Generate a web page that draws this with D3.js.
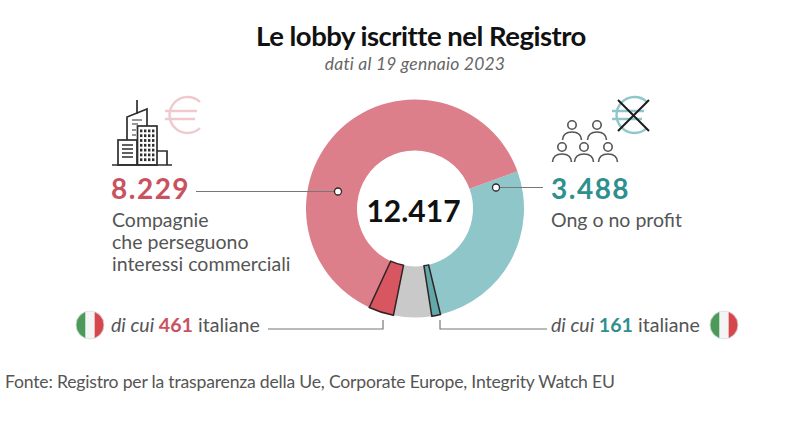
<!DOCTYPE html>
<html>
<head>
<meta charset="utf-8">
<script src="https://cdn.jsdelivr.net/npm/d3@7"></script>
<style>
  html, body { margin: 0; padding: 0; background: #fff; }
  svg { display: block; font-family: Lato, sans-serif; }
</style>
</head>
<body>
<svg id="chart" width="800" height="428"></svg>
<script>
// Chart data
const segmentNames = ["ong", "ongItaliane", "altre", "compagnieItaliane", "compagnie"];
const segmentValues = [3327, 161, 700, 461, 7768];
const segmentColors = ["#8fc6c9", "#62a8a8", "#c9c9c9", "#d8565f", "#dc7f8b"];
const outlinedSegments = ["ongItaliane", "compagnieItaliane"];
const totalLabel = "12.417";
const companyLabel = "8.229";
const ngoLabel = "3.488";
const companyLines = ["Compagnie", "che perseguono", "interessi commerciali"];
const ngoLines = ["Ong o no profit"];

const RED = "#c9525f";
const TEAL = "#2f8f8f";
const TEXT = "#555";
const LINE = "#777";
const DARK = "#2e2e2e";

const svg = d3.select("#chart");

// Title
svg.append("text").attr("x", 421).attr("y", 46).attr("text-anchor", "middle")
  .attr("font-size", 27.5).attr("font-weight", 700).attr("fill", "#111").attr("letter-spacing", -0.5)
  .text("Le lobby iscritte nel Registro");
svg.append("text").attr("x", 415).attr("y", 70).attr("text-anchor", "middle")
  .attr("font-size", 17.5).attr("font-style", "italic").attr("fill", "#666").attr("letter-spacing", 0.2)
  .text("dati al 19 gennaio 2023");

// Donut
const color = d3.scaleOrdinal().domain(segmentNames).range(segmentColors);
const pie = d3.pie().sort(null)
  .startAngle(70 * Math.PI / 180)
  .endAngle(430 * Math.PI / 180);
const arc = d3.arc().innerRadius(58).outerRadius(109);
const slices = pie(segmentValues).map((d, i) => ({ ...d, name: segmentNames[i] }));

const donut = svg.append("g").attr("transform", "translate(415,208.5)");
donut.selectAll("path.slice")
  .data(slices.filter(d => !outlinedSegments.includes(d.name)))
  .join("path")
  .attr("class", "slice")
  .attr("d", arc)
  .attr("fill", d => color(d.name));
// the two italian slices sit on top with a dark outline
donut.selectAll("path.outlined")
  .data(slices.filter(d => outlinedSegments.includes(d.name)))
  .join("path")
  .attr("class", "outlined")
  .attr("d", arc)
  .attr("fill", d => color(d.name))
  .attr("stroke", "#2f2326")
  .attr("stroke-width", 1.5);

svg.append("text").attr("x", 413.5).attr("y", 222).attr("text-anchor", "middle")
  .attr("font-size", 30).attr("font-weight", 700).attr("fill", "#111").text(totalLabel);

// Leader lines
function leader(points) {
  svg.append("path").attr("d", d3.line()(points))
    .attr("fill", "none").attr("stroke", LINE).attr("stroke-width", 1.2);
}
function dot(x, y) {
  svg.append("circle").attr("cx", x).attr("cy", y).attr("r", 3.5)
    .attr("fill", "#fff").attr("stroke", "#2b2b2b").attr("stroke-width", 1.3);
}
leader([[196, 191.5], [338, 191.5]]);
dot(338, 191.5);
leader([[496, 187.5], [543, 187.5]]);
dot(496, 187.5);
leader([[268, 329], [383, 329], [383, 320]]);
leader([[440, 320], [440, 329], [547, 329]]);

// Big numbers
svg.append("text").attr("x", 111).attr("y", 199)
  .attr("font-size", 28).attr("font-weight", 700).attr("fill", RED).attr("letter-spacing", 1.5).text(companyLabel);
svg.append("text").attr("x", 551).attr("y", 199)
  .attr("font-size", 28).attr("font-weight", 700).attr("fill", TEAL).attr("letter-spacing", 1.5).text(ngoLabel);

// Descriptions
svg.selectAll("text.company").data(companyLines).join("text")
  .attr("class", "company").attr("x", 112).attr("y", (d, i) => 226.5 + i * 22)
  .attr("font-size", 19.5).attr("fill", TEXT).text(d => d);
svg.selectAll("text.ngo").data(ngoLines).join("text")
  .attr("class", "ngo").attr("x", 551).attr("y", 226.5)
  .attr("font-size", 19.5).attr("fill", TEXT).text(d => d);

// "di cui ..." labels
function italianLabel(x, value, fill) {
  const t = svg.append("text").attr("x", x).attr("y", 332).attr("font-size", 19.6).attr("fill", TEXT);
  t.append("tspan").attr("font-style", "italic").text("di cui ");
  t.append("tspan").attr("font-weight", 700).attr("fill", fill).text(value);
  t.append("tspan").text(" italiane");
}
italianLabel(111, "461", RED);
italianLabel(551, "161", TEAL);

// Flags
function flag(cx, cy, id) {
  const r = 14;
  svg.append("clipPath").attr("id", id).append("circle").attr("cx", cx).attr("cy", cy).attr("r", r);
  const g = svg.append("g").attr("clip-path", `url(#${id})`);
  ["#4c9a5a", "#f4f4f4", "#d5474d"].forEach((c, i) => {
    g.append("rect").attr("x", cx - r + i * (2 * r / 3)).attr("y", cy - r)
      .attr("width", 2 * r / 3 + 0.5).attr("height", 2 * r).attr("fill", c);
  });
  svg.append("circle").attr("cx", cx).attr("cy", cy).attr("r", r)
    .attr("fill", "none").attr("stroke", "#ddd").attr("stroke-width", 0.8);
}
flag(90, 325, "flag-left");
flag(724, 325, "flag-right");

// Euro sign, open circle with two bars
function euro(cx, cy, stroke) {
  const g = svg.append("g").attr("fill", "none").attr("stroke", stroke).attr("stroke-width", 2.4);
  g.append("path").attr("d", `M${cx + 16},${cy - 13} A18,18 0 1 0 ${cx + 16},${cy + 13}`);
  g.append("path").attr("d", `M${cx - 19},${cy - 4} H${cx + 13} M${cx - 19},${cy + 4} H${cx + 11}`);
}

// Buildings icon
function buildings() {
  const g = svg.append("g").attr("fill", "none").attr("stroke", DARK).attr("stroke-width", 1.7);
  g.append("path").attr("d", "M112,165 H172");
  g.append("path").attr("d", "M127,140 V117 L147,109 V126");
  g.append("path").attr("d", "M137,100 V114");
  g.append("rect").attr("x", 118).attr("y", 140).attr("width", 19).attr("height", 25);
  g.append("rect").attr("x", 137.5).attr("y", 126).attr("width", 19.5).attr("height", 39);
  g.append("path").attr("d", "M157,151 H167 V165");
  // back tower stripes
  g.append("path").attr("d", "M132,120 H142 M132,124 H138 M132,130 H136 M132,135 H136").attr("stroke-width", 1.2);
  // left block stripes
  g.append("path").attr("d", "M122,145 H133 M122,149 H133 M122,153 H133 M122,157 H133").attr("stroke-width", 1.6);
  // middle tower windows
  const win = svg.append("g").attr("fill", DARK);
  d3.range(7).forEach(row => d3.range(4).forEach(col => {
    win.append("rect").attr("x", 140 + col * 4).attr("y", 129.5 + row * 4.8)
      .attr("width", 2.4).attr("height", 2.8);
  }));
}
euro(184, 115, "#efc9cd");
buildings();

// People icon
function person(cx, cy) {
  const g = svg.append("g").attr("fill", "none").attr("stroke", "#555").attr("stroke-width", 1.6);
  g.append("circle").attr("cx", cx).attr("cy", cy).attr("r", 4.2);
  g.append("path").attr("d", `M${cx - 9.5},${cy + 15} C${cx - 9},${cy + 8} ${cx - 4},${cy + 7} ${cx},${cy + 7} C${cx + 4},${cy + 7} ${cx + 9},${cy + 8} ${cx + 9.5},${cy + 15}`);
}
person(572, 125);
person(597, 125);
person(562, 147);
person(584, 147);
person(608, 147);

euro(631, 115, "#8fc6c9");
svg.append("path").attr("d", "M618,100 L649,131 M649,100 L618,131")
  .attr("stroke", "#1b1b1b").attr("stroke-width", 2).attr("fill", "none");

// Source
svg.append("text").attr("x", 5).attr("y", 388)
  .attr("font-size", 17.6).attr("fill", TEXT).attr("letter-spacing", -0.2)
  .text("Fonte: Registro per la trasparenza della Ue, Corporate Europe, Integrity Watch EU");
</script>
</body>
</html>
